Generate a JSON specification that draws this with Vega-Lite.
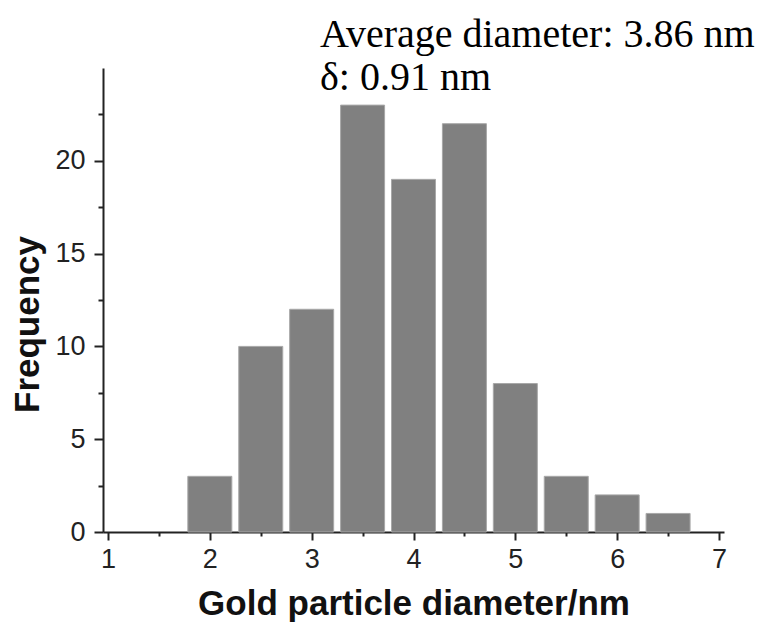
{
  "$schema": "https://vega.github.io/schema/vega-lite/v6.json",
  "width": 621,
  "height": 464,
  "autosize": "none",
  "padding": {"left": 103, "top": 68, "right": 33, "bottom": 91},
  "background": "white",
  "title": {
    "text": ["Average diameter: 3.86 nm", "δ: 0.91 nm"],
    "anchor": "start",
    "frame": "group",
    "dx": 217,
    "font": "Liberation Serif",
    "fontSize": 40,
    "fontWeight": "normal",
    "color": "#000000",
    "lineHeight": 43,
    "baseline": "alphabetic",
    "offset": -62
  },
  "config": {"view": {"stroke": null}},
  "data": {
    "values": [
      {"diameter": 2.0, "frequency": 3},
      {"diameter": 2.5, "frequency": 10},
      {"diameter": 3.0, "frequency": 12},
      {"diameter": 3.5, "frequency": 23},
      {"diameter": 4.0, "frequency": 19},
      {"diameter": 4.5, "frequency": 22},
      {"diameter": 5.0, "frequency": 8},
      {"diameter": 5.5, "frequency": 3},
      {"diameter": 6.0, "frequency": 2},
      {"diameter": 6.5, "frequency": 1}
    ]
  },
  "mark": {"type": "bar", "width": 44, "color": "#808080", "stroke": "#a8a8a8", "strokeWidth": 1},
  "encoding": {
    "x": {
      "field": "diameter",
      "type": "quantitative",
      "scale": {"domain": [1, 7], "nice": false, "zero": false},
      "axis": {
        "values": [1, 1.5, 2, 2.5, 3, 3.5, 4, 4.5, 5, 5.5, 6, 6.5, 7],
        "labelExpr": "datum.value % 1 === 0 ? format(datum.value, 'd') : ''",
        "grid": false,
        "domainColor": "#222222",
        "domainWidth": 2,
        "tickColor": "#222222",
        "tickWidth": 2,
        "tickSize": {"condition": {"test": "datum.value % 1 === 0", "value": 8}, "value": 4},
        "labelFont": "Liberation Sans",
        "labelFontSize": 27,
        "labelColor": "#222222",
        "labelPadding": 6,
        "labelFlush": false,
        "labelOverlap": false,
        "title": "Gold particle diameter/nm",
        "titleFont": "Liberation Sans",
        "titleFontSize": 35,
        "titleFontWeight": "bold",
        "titleColor": "#111111",
        "titlePadding": 14
      }
    },
    "y": {
      "field": "frequency",
      "type": "quantitative",
      "scale": {"domain": [0, 25], "nice": false},
      "axis": {
        "values": [0, 2.5, 5, 7.5, 10, 12.5, 15, 17.5, 20, 22.5],
        "labelExpr": "datum.value % 5 === 0 ? format(datum.value, 'd') : ''",
        "grid": false,
        "domainColor": "#222222",
        "domainWidth": 2,
        "tickColor": "#222222",
        "tickWidth": 2,
        "tickSize": {"condition": {"test": "datum.value % 5 === 0", "value": 9}, "value": 5},
        "labelFont": "Liberation Sans",
        "labelFontSize": 27,
        "labelColor": "#222222",
        "labelPadding": 9,
        "labelFlush": false,
        "labelOverlap": false,
        "title": "Frequency",
        "titleFont": "Liberation Sans",
        "titleFontSize": 35,
        "titleFontWeight": "bold",
        "titleColor": "#111111",
        "titlePadding": 9,
        "titleY": 256
      }
    }
  }
}
